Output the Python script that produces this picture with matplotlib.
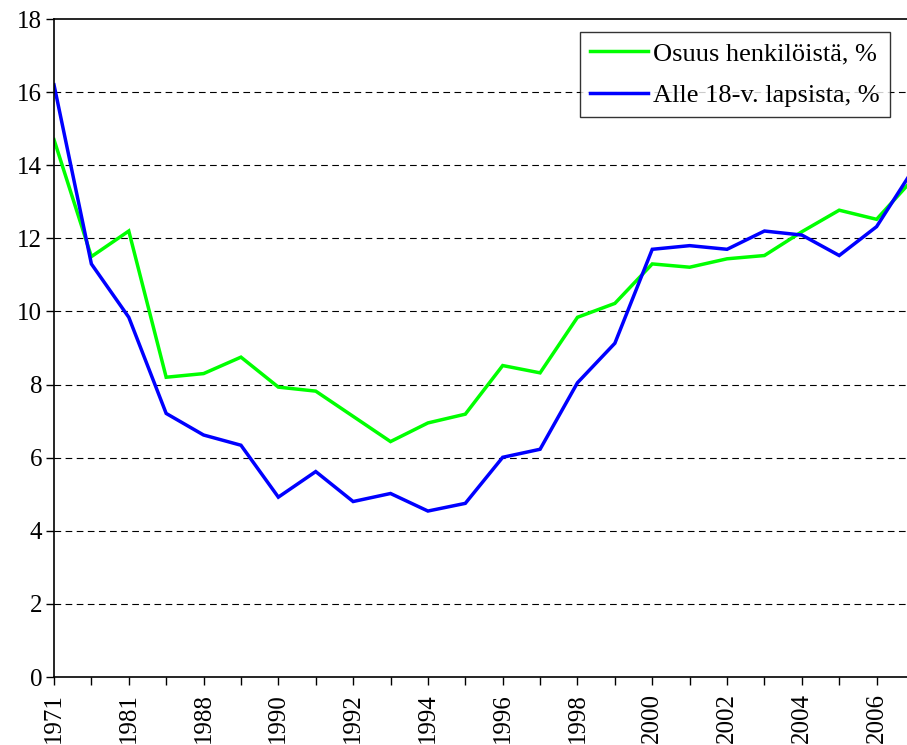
import matplotlib
matplotlib.use("Agg")
import matplotlib.pyplot as plt
import numpy as np

plt.rcParams['font.family'] = ['Liberation Serif', 'DejaVu Serif']

years = ['1971', '1976', '1981', '1985', '1988', '1989', '1990', '1991', '1992',
         '1993', '1994', '1995', '1996', '1997', '1998', '1999', '2000', '2001',
         '2002', '2003', '2004', '2005', '2006', '2007']
osuus_henkiloista = [14.7, 11.5, 12.2, 8.2, 8.3, 8.75, 7.93, 7.82, 7.13, 6.44, 6.95,
                     7.19, 8.52, 8.32, 9.84, 10.22, 11.3, 11.21, 11.44, 11.53, 12.18,
                     12.77, 12.52, 13.65]
alle18_lapsista = [16.2, 11.3, 9.84, 7.21, 6.62, 6.34, 4.92, 5.62, 4.8, 5.02, 4.54,
                   4.75, 6.01, 6.23, 8.05, 9.13, 11.7, 11.8, 11.7, 12.2, 12.09,
                   11.53, 12.32, 13.92]
labels = ['Osuus henkilöistä, %', 'Alle 18-v. lapsista, %']

W, H = 907, 745
fig = plt.figure(figsize=(W / 100, H / 100), dpi=100)
left, right, top, bottom = 54, 914, 19, 677
ax = fig.add_axes([left / W, (H - bottom) / H, (right - left) / W, (bottom - top) / H])

x = np.arange(len(years))
ax.plot(x, osuus_henkiloista, color='#00FF00', lw=2.5, label=labels[0], solid_joinstyle='miter')
ax.plot(x, alle18_lapsista, color='#0000FF', lw=2.5, label=labels[1], solid_joinstyle='miter')

ax.set_xlim(0, len(years) - 1)
ax.set_ylim(0, 18)
ax.set_yticks(np.arange(0, 19, 2))
ax.set_xticks(x)
ax.set_xticklabels([y if i % 2 == 0 else '' for i, y in enumerate(years)], rotation=90)

for v in range(2, 18, 2):
    ax.axhline(v, color='black', lw=0.8, ls=(0, (6, 4)), zorder=0)

for s in ax.spines.values():
    s.set_color('black')
    s.set_linewidth(1.2)

ax.tick_params(axis='both', direction='out', length=5.5, width=1, labelsize=18,
               colors='black', pad=3)
ax.tick_params(axis='x', pad=6)

leg = ax.legend(loc='upper left',
                bbox_to_anchor=((580 - left) / (right - left), 1 - (32 - top) / (bottom - top)),
                frameon=True, fancybox=False, fontsize=19, handlelength=2.2,
                borderaxespad=0, borderpad=0.38, labelspacing=0.7, handletextpad=0.2)
leg.get_frame().set_edgecolor('black')
leg.get_frame().set_linewidth(1.0)

fig.savefig('out.png', dpi=100)
